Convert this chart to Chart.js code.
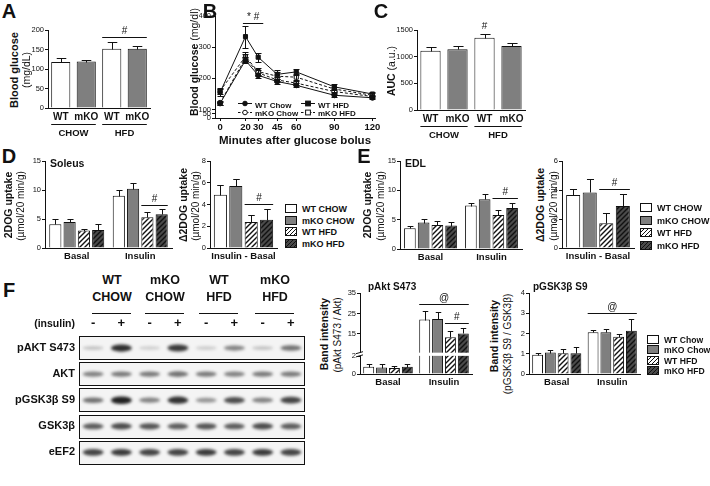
<!DOCTYPE html>
<html lang="en">
<head>
<meta charset="UTF-8" />
<title>Glucose figure</title>
<script src="https://cdn.jsdelivr.net/npm/chart.js@4.4.1/dist/chart.umd.min.js"></script>
<style>
  body { margin: 0; background: #fff; }
  #fig { position: relative; width: 710px; height: 486px; overflow: hidden; background: #fff;
         font-family: "Liberation Sans", Arial, sans-serif; color: #111; }
  #fig canvas { position: absolute; }
  .t { position: absolute; white-space: nowrap; line-height: 1; }
  .sw { display: inline-block; width: 12px; height: 9px; border: 1px solid #111; box-sizing: border-box;
        vertical-align: middle; margin-right: 5px; margin-top: -2px; }
  .hl { position: absolute; height: 0; border-top: 1px solid #111; }
</style>
</head>
<body>
<div id="fig"></div>
<script>
// ---- data ----
// A: fasting blood glucose (mg/dL)
const genotypeLabels = ['WT', 'mKO', 'WT', 'mKO'];
const fastGlucose = [118, 119, 152, 152];
const fastGlucoseSem = [10, 5, 16, 6];

// B: glucose tolerance test
const gttMinutes = [0, 20, 30, 45, 60, 90, 120];
const gttWtChow = [120, 258, 210, 190, 178, 146, 138];
const gttWtChowSem = [6, 10, 8, 8, 6, 5, 5];
const gttMkoChow = [122, 265, 218, 195, 185, 158, 142];
const gttMkoChowSem = [6, 12, 10, 8, 6, 6, 5];
const gttWtHfd = [155, 334, 268, 213, 221, 173, 150];
const gttWtHfdSem = [10, 35, 15, 14, 10, 8, 6];
const gttMkoHfd = [160, 270, 222, 207, 204, 166, 146];
const gttMkoHfdSem = [10, 14, 12, 14, 10, 8, 6];

// C: area under curve
const gttAuc = [1112, 1138, 1356, 1200];
const gttAucSem = [63, 62, 69, 62];

// D/E: 2DOG uptake
const uptakeCats = ['Basal', 'Insulin'];
const deltaCats = ['Insulin - Basal'];
const soleusUptake = [[4.1, 9.0], [4.5, 10.2], [3.0, 5.3], [3.1, 5.8]];
const soleusUptakeSem = [[0.9, 1.0], [0.5, 0.95], [0.3, 0.9], [1.05, 1.0]];
const soleusDelta = [4.9, 5.7, 2.4, 2.6];
const soleusDeltaSem = [0.85, 0.65, 0.6, 0.95];
const edlUptake = [[3.55, 7.4], [4.5, 8.5], [4.1, 5.8], [4.0, 7.0]];
const edlUptakeSem = [[0.35, 0.5], [0.6, 0.9], [0.7, 0.9], [0.6, 0.9]];
const edlDelta = [3.65, 3.83, 1.71, 2.9];
const edlDeltaSem = [0.42, 0.92, 0.7, 0.82];

// F: western blot quantification
const pAkt = [[0.81, 22.0], [0.72, 22.3], [0.68, 13.4], [0.82, 15.2]];
const pAktSem = [[0.3, 4.1], [0.38, 3.2], [0.25, 2.9], [0.35, 2.5]];
const pGsk = [[0.95, 2.06], [1.06, 2.06], [1.02, 1.84], [1.02, 2.14]];
const pGskSem = [[0.11, 0.11], [0.13, 0.17], [0.2, 0.12], [0.3, 0.56]];

// F: blot band strengths (0..1), one row per antibody, one value per lane
const blotRows = ['pAKT S473', 'AKT', 'pGSK3β S9', 'GSK3β', 'eEF2'];
const blotLanes = ['-', '+', '-', '+', '-', '+', '-', '+'];
const blotSignal = [
  [0.10, 0.92, 0.04, 0.85, 0.05, 0.45, 0.10, 0.55],
  [0.45, 0.50, 0.50, 0.55, 0.50, 0.45, 0.50, 0.50],
  [0.55, 1.00, 0.45, 0.90, 0.35, 0.75, 0.45, 0.80],
  [0.65, 0.75, 0.70, 0.65, 0.70, 0.65, 0.75, 0.65],
  [0.80, 0.85, 0.80, 0.80, 0.85, 0.80, 0.85, 0.80],
];

const upperNames = ['WT CHOW', 'mKO CHOW', 'WT HFD', 'mKO HFD'];
const chowNames = ['WT Chow', 'mKO Chow', 'WT HFD', 'mKO HFD'];

// ---- helpers ----
const FONT = '"Liberation Sans", Arial, sans-serif';
Chart.defaults.font.family = FONT;
Chart.defaults.color = '#111';
const fig = document.getElementById('fig');

function put(html, x, y, font, anchor) {
  const d = document.createElement('div');
  d.className = 't';
  d.innerHTML = html;
  d.style.font = font + ' ' + FONT;
  d.style.left = x + 'px';
  d.style.top = y + 'px';
  d.style.transform = anchor === 'left' ? 'translateY(-50%)'
    : anchor === 'right' ? 'translate(-100%,-50%)'
    : anchor === 'rot' ? 'translate(-50%,-50%) rotate(-90deg)'
    : 'translate(-50%,-50%)';
  fig.appendChild(d);
}

function hatch(bg) {
  const c = document.createElement('canvas');
  c.width = c.height = 5;
  const g = c.getContext('2d');
  g.fillStyle = bg;
  g.fillRect(0, 0, 5, 5);
  g.strokeStyle = '#111';
  g.lineWidth = 1.4;
  g.beginPath();
  g.moveTo(0, 5); g.lineTo(5, 0);
  g.moveTo(-1, 1); g.lineTo(1, -1);
  g.moveTo(4, 6); g.lineTo(6, 4);
  g.stroke();
  return g.createPattern(c, 'repeat');
}
const fills = ['#ffffff', '#7f7f7f', hatch('#ffffff'), hatch('#4a4a4a')];
const swatches = ['#fff', '#7f7f7f',
  'repeating-linear-gradient(135deg,#fff 0 1.6px,#111 1.6px 2.8px)',
  'repeating-linear-gradient(135deg,#4a4a4a 0 1.6px,#111 1.6px 2.8px)'];

// piecewise y scale for the broken axes (B and pAkt)
const PIECES = {};
class BrokenScale extends Chart.LinearScale {
  getPixelForValue(v) {
    const pc = PIECES[this.chart.canvas.id];
    let f = 0;
    for (let k = 1; k < pc.length; k++) {
      if (v <= pc[k][0] || k === pc.length - 1) {
        f = pc[k - 1][1] + (v - pc[k - 1][0]) / (pc[k][0] - pc[k - 1][0]) * (pc[k][1] - pc[k - 1][1]);
        break;
      }
    }
    return this.getPixelForDecimal(f);
  }
}
BrokenScale.id = 'broken';
BrokenScale.defaults = Chart.LinearScale.defaults;
Chart.register(BrokenScale);

// upper error bars (bars) / both-sided (lines)
Chart.register({
  id: 'errBars',
  afterDatasetsDraw(chart) {
    const ctx = chart.ctx, ys = chart.scales.y, isLine = chart.config.type === 'line';
    ctx.save();
    ctx.strokeStyle = '#111';
    ctx.lineWidth = 1;
    chart.data.datasets.forEach((ds, di) => {
      if (!ds.sem) return;
      chart.getDatasetMeta(di).data.forEach((el, i) => {
        const raw = ds.data[i];
        const m = typeof raw === 'object' ? raw.y : raw, s = ds.sem[i];
        if (m == null || !s) return;
        const x = Math.round(el.x) + 0.5;
        const hi = Math.round(ys.getPixelForValue(m + s)) + 0.5;
        const lo = Math.round(ys.getPixelForValue(isLine ? m - s : m)) + 0.5;
        const hw = isLine ? 3 : Math.max(2, el.width * 0.25);
        ctx.beginPath();
        ctx.moveTo(x, lo); ctx.lineTo(x, hi);
        ctx.moveTo(x - hw, hi); ctx.lineTo(x + hw, hi);
        if (isLine) { ctx.moveTo(x - hw, lo); ctx.lineTo(x + hw, lo); }
        ctx.stroke();
      });
    });
    ctx.restore();
  }
});

function barEdge(chart, ref, side) {
  const el = chart.getDatasetMeta(ref[0]).data[ref[1]];
  return el.x + side * el.width / 2;
}

// significance lines + symbols
function sigPlugin(marks) {
  return {
    id: 'sig',
    afterDatasetsDraw(chart) {
      const ctx = chart.ctx, ys = chart.scales.y, xs = chart.scales.x;
      ctx.save();
      ctx.strokeStyle = '#111';
      ctx.fillStyle = '#111';
      ctx.lineWidth = 1;
      ctx.font = '10px ' + FONT;
      ctx.textAlign = 'center';
      ctx.textBaseline = 'bottom';
      marks.forEach(m => {
        const x0 = m.a ? barEdge(chart, m.a, -1) : xs.getPixelForValue(m.x0);
        const x1 = m.a ? barEdge(chart, m.b, 1) : xs.getPixelForValue(m.x1);
        const y = Math.round(ys.getPixelForValue(m.y)) + 0.5;
        if (!m.noLine) {
          ctx.beginPath(); ctx.moveTo(x0, y); ctx.lineTo(x1, y); ctx.stroke();
        }
        ctx.fillText(m.text, (x0 + x1) / 2, y - 1.5);
      });
      ctx.restore();
    }
  };
}

// CHOW / HFD group labels under the genotype ticks
function groupPlugin(items) {
  return {
    id: 'groups',
    afterDraw(chart) {
      const ctx = chart.ctx, b = chart.chartArea.bottom;
      ctx.save();
      ctx.strokeStyle = '#111';
      ctx.fillStyle = '#111';
      ctx.font = 'bold 9.5px ' + FONT;
      ctx.textAlign = 'center';
      ctx.textBaseline = 'middle';
      items.forEach(g => {
        const x0 = barEdge(chart, [0, g.a], -1), x1 = barEdge(chart, [0, g.b], 1);
        ctx.beginPath(); ctx.moveTo(x0, b + 16.5); ctx.lineTo(x1, b + 16.5); ctx.stroke();
        ctx.fillText(g.text, (x0 + x1) / 2, b + 25);
      });
      ctx.restore();
    }
  };
}

// white gap across the broken pAkt axis
function gapPlugin(v0, v1) {
  return {
    id: 'gap',
    afterDatasetsDraw(chart) {
      const ctx = chart.ctx, ca = chart.chartArea, ys = chart.scales.y;
      const t = ys.getPixelForValue(v1), b = ys.getPixelForValue(v0);
      ctx.save();
      ctx.fillStyle = '#fff';
      ctx.fillRect(ca.left - 1, t, ca.right - ca.left + 2, b - t);
      ctx.strokeStyle = '#111';
      ctx.beginPath();
      ctx.moveTo(ca.left - 4, t + 1); ctx.lineTo(ca.left + 3, t - 1);
      ctx.moveTo(ca.left - 4, b + 1); ctx.lineTo(ca.left + 3, b - 1);
      ctx.stroke();
      ctx.restore();
    }
  };
}

let nCanvas = 0;
function mount(plot, yw, xTop, xBot) {
  const pad = { left: 2, top: 8, right: 8, bottom: 1 };
  const L = Math.round(plot[0] - yw - pad.left), T = Math.round(plot[1] - xTop - pad.top);
  const R = Math.round(plot[2] + pad.right), B = Math.round(plot[3] + xBot + pad.bottom);
  const c = document.createElement('canvas');
  c.id = 'cv' + (nCanvas++);
  c.width = R - L;
  c.height = B - T;
  c.style.left = L + 'px';
  c.style.top = T + 'px';
  fig.appendChild(c);
  return { c, pad };
}

function yAxis(yw, ticks, extra) {
  return Object.assign({
    grid: { display: true, drawOnChartArea: false, tickLength: 3, color: '#111' },
    border: { color: '#111', width: 1 },
    ticks: { font: { size: 7.5 }, padding: 1, color: '#111', callback: v => String(v) },
    afterBuildTicks: s => { s.ticks = ticks.map(v => ({ value: v })); },
    afterFit: s => { s.width = yw; }
  }, extra);
}

function barChart(plot, yw, xh, o) {
  const { c, pad } = mount(plot, yw, 0, xh);
  if (o.pieces) PIECES[c.id] = o.pieces;
  return new Chart(c, {
    type: 'bar',
    data: { labels: o.labels, datasets: o.datasets },
    options: {
      responsive: false, animation: false, events: [],
      layout: { padding: pad },
      datasets: { bar: { categoryPercentage: o.cp, barPercentage: o.bp, borderColor: '#111', borderWidth: 1 } },
      scales: {
        x: {
          grid: { display: false, drawTicks: false },
          border: { color: '#111', width: 1 },
          ticks: { font: { size: o.xFont || 9.5, weight: 'bold' }, padding: 3, color: '#111', maxRotation: 0, minRotation: 0, autoSkip: false },
          afterFit: s => { s.height = xh; }
        },
        y: yAxis(yw, o.ticks, { type: o.pieces ? 'broken' : 'linear', min: 0, max: o.max })
      },
      plugins: { legend: { display: false }, tooltip: { enabled: false } }
    },
    plugins: [sigPlugin(o.marks || []), groupPlugin(o.groups || [])].concat(o.extra || [])
  });
}

function fourSets(series, sems) {
  return series.map((d, k) => ({ label: upperNames[k], data: d, sem: sems[k], backgroundColor: fills[k] }));
}
function deltaSets(vals, sems) {
  return vals.map((v, k) => ({ label: upperNames[k], data: [v], sem: [sems[k]], backgroundColor: fills[k] }));
}

// ---- A ----
barChart([48, 30, 150, 108], 20, 36, {
  labels: genotypeLabels, max: 200, ticks: [0, 50, 100, 150, 200], cp: 1, bp: 0.75, xFont: 10,
  datasets: [{ data: fastGlucose, sem: fastGlucoseSem, backgroundColor: [fills[0], fills[1], fills[0], fills[1]] }],
  marks: [{ a: [0, 2], b: [0, 3], y: 183, text: '#' }],
  groups: [{ a: 0, b: 1, text: 'CHOW' }, { a: 2, b: 3, text: 'HFD' }]
});

// ---- B ----
(function () {
  const { c, pad } = mount([215, 16, 375, 118], 16, 0, 30);
  PIECES[c.id] = [[0, 0], [100, 0.082], [400, 1]];
  const pts = arr => gttMinutes.map((t, i) => ({ x: t, y: arr[i] }));
  const line = (label, arr, sem, dash, shape, filled) => ({
    label, data: pts(arr), sem, borderColor: '#111', borderWidth: 1, borderDash: dash ? [3, 2] : [],
    pointStyle: shape, pointRadius: shape === 'rect' ? 2.9 : 2.5, pointBorderWidth: 1,
    pointBorderColor: '#111', pointBackgroundColor: filled ? '#111' : '#fff', tension: 0
  });
  new Chart(c, {
    type: 'line',
    data: {
      datasets: [
        line('WT Chow', gttWtChow, gttWtChowSem, false, 'circle', true),
        line('mKO Chow', gttMkoChow, gttMkoChowSem, true, 'circle', false),
        line('WT HFD', gttWtHfd, gttWtHfdSem, false, 'rect', true),
        line('mKO HFD', gttMkoHfd, gttMkoHfdSem, true, 'rect', false)
      ]
    },
    options: {
      responsive: false, animation: false, events: [],
      layout: { padding: pad },
      scales: {
        x: {
          type: 'linear', min: -4, max: 122,
          grid: { display: true, drawOnChartArea: false, tickLength: 3, color: '#111' },
          border: { color: '#111' },
          ticks: { font: { size: 9.5, weight: 'bold' }, padding: 1, color: '#111', maxRotation: 0 },
          afterBuildTicks: s => { s.ticks = gttMinutes.map(v => ({ value: v })); },
          title: { display: true, text: 'Minutes after glucose bolus', font: { size: 11.5, weight: 'bold' }, padding: 0, color: '#111' },
          afterFit: s => { s.height = 30; }
        },
        y: yAxis(16, [0, 50, 100, 200, 300, 400], { type: 'broken', min: 0, max: 400 })
      },
      plugins: { legend: { display: false }, tooltip: { enabled: false } }
    },
    plugins: [sigPlugin([{ x0: 18, x1: 34, y: 377, text: '* #' }])]
  });
})();

// ---- C ----
barChart([417, 30, 525, 110], 24, 36, {
  labels: genotypeLabels, max: 1500, ticks: [0, 500, 1000, 1500], cp: 1, bp: 0.75, xFont: 10,
  datasets: [{ data: gttAuc, sem: gttAucSem, backgroundColor: [fills[0], fills[1], fills[0], fills[1]] }],
  marks: [{ a: [0, 2], b: [0, 2], y: 1470, text: '#', noLine: true }],
  groups: [{ a: 0, b: 1, text: 'CHOW' }, { a: 2, b: 3, text: 'HFD' }]
});

// ---- D ----
barChart([45, 161, 172, 248], 14, 16, {
  labels: uptakeCats, max: 15, ticks: [0, 5, 10, 15], cp: 0.9, bp: 0.85,
  datasets: fourSets(soleusUptake, soleusUptakeSem),
  marks: [{ a: [2, 1], b: [3, 1], y: 7.5, text: '#' }]
});
barChart([210, 161, 277, 248], 12, 16, {
  labels: deltaCats, max: 8, ticks: [0, 2, 4, 6, 8], cp: 0.92, bp: 0.85,
  datasets: deltaSets(soleusDelta, soleusDeltaSem),
  marks: [{ a: [2, 0], b: [3, 0], y: 4.05, text: '#' }]
});

// ---- E ----
barChart([400, 161, 522, 249], 14, 16, {
  labels: uptakeCats, max: 15, ticks: [0, 5, 10, 15], cp: 0.9, bp: 0.85,
  datasets: fourSets(edlUptake, edlUptakeSem),
  marks: [{ a: [2, 1], b: [3, 1], y: 8.7, text: '#' }]
});
barChart([562, 161, 634, 248], 12, 16, {
  labels: deltaCats, max: 6, ticks: [0, 2, 4, 6], cp: 0.92, bp: 0.85,
  datasets: deltaSets(edlDelta, edlDeltaSem),
  marks: [{ a: [2, 0], b: [3, 0], y: 4.06, text: '#' }]
});

// ---- F bar charts ----
barChart([360, 293, 472, 374], 14, 16, {
  labels: uptakeCats, max: 35, ticks: [0, 1, 2, 10, 15, 20, 25, 30, 35], cp: 0.92, bp: 0.85,
  pieces: [[0, 0], [2, 0.221], [6, 0.268], [35, 1]],
  datasets: fourSets(pAkt, pAktSem),
  marks: [{ a: [0, 1], b: [3, 1], y: 29.4, text: '@' }, { a: [2, 1], b: [3, 1], y: 20.1, text: '#' }],
  extra: [gapPlugin(2.25, 5.6)]
});
barChart([529, 293, 640, 374], 12, 16, {
  labels: uptakeCats, max: 4, ticks: [0, 1, 2, 3, 4], cp: 0.92, bp: 0.85,
  datasets: fourSets(pGsk, pGskSem),
  marks: [{ a: [0, 1], b: [3, 1], y: 3.0, text: '@' }]
});

// ---- F blot ----
(function () {
  const { c, pad } = mount([79, 335, 305, 475], 77, 16, 0);
  const blot = {
    id: 'blot',
    beforeDatasetsDraw(chart) {
      const ctx = chart.ctx, xs = chart.scales.x, ys = chart.scales.y, ca = chart.chartArea;
      const lw = xs.getPixelForValue(1) - xs.getPixelForValue(0);
      const rh = ys.getPixelForValue(1) - ys.getPixelForValue(0);
      blotSignal.forEach((row, r) => {
        const yc = ys.getPixelForValue(r);
        const top = Math.round(yc - rh * 0.45) + 0.5, h = Math.round(rh * 0.9);
        ctx.save();
        ctx.fillStyle = '#f4f4f4';
        ctx.fillRect(ca.left, top, ca.right - ca.left, h);
        ctx.beginPath(); ctx.rect(ca.left, top, ca.right - ca.left, h); ctx.clip();
        ctx.filter = 'blur(1.4px)';
        row.forEach((s, i) => {
          const x = xs.getPixelForValue(i);
          ctx.fillStyle = 'rgba(20,20,20,' + (0.15 + 0.8 * s) + ')';
          ctx.beginPath();
          ctx.ellipse(x, yc, lw * 0.37, 1.6 + 2.2 * s, 0, 0, Math.PI * 2);
          ctx.fill();
        });
        ctx.restore();
        ctx.strokeStyle = '#111';
        ctx.lineWidth = 1;
        ctx.strokeRect(ca.left + 0.5, top, ca.right - ca.left - 1, h);
      });
    }
  };
  new Chart(c, {
    type: 'scatter',
    data: { datasets: [] },
    options: {
      responsive: false, animation: false, events: [],
      layout: { padding: pad },
      scales: {
        x: {
          type: 'category', labels: blotLanes, position: 'top', offset: true,
          grid: { display: false, drawTicks: false }, border: { display: false },
          ticks: { font: { size: 13, weight: 'bold' }, padding: 4, color: '#111', maxRotation: 0, autoSkip: false },
          afterFit: s => { s.height = 16; }
        },
        y: {
          type: 'category', labels: blotRows, offset: true,
          grid: { display: false, drawTicks: false }, border: { display: false },
          ticks: { font: { size: 11, weight: 'bold' }, padding: 4, color: '#111', autoSkip: false },
          afterFit: s => { s.width = 77; }
        }
      },
      plugins: { legend: { display: false }, tooltip: { enabled: false } }
    },
    plugins: [blot]
  });
})();

// ---- text: letters, axis titles, legends ----
put('A', 9, 11, 'bold 20px'); put('B', 210, 11, 'bold 20px'); put('C', 381, 11, 'bold 20px');
put('D', 9, 156, 'bold 20px'); put('E', 364, 156, 'bold 20px'); put('F', 9, 290, 'bold 20px');

put('Blood glucose', 14, 70, 'bold 11px', 'rot');
put('(mg/dL)', 26, 70, '10.5px', 'rot');
put('<b>Blood glucose</b> (mg/dl)', 194, 62, '10.5px', 'rot');
put('<b>AUC</b> (a.u.)', 391, 71, '10.5px', 'rot');

put('2DOG uptake', 8, 205, 'bold 10.5px', 'rot');
put('(µmol/20 min/g)', 20, 206, '10px', 'rot');
put('Δ2DOG uptake', 183, 205, 'bold 10.5px', 'rot');
put('(µmol/20 min/g)', 195, 206, '10px', 'rot');
put('Soleus', 50, 163, 'bold 10.5px', 'left');

put('2DOG uptake', 367, 205, 'bold 10.5px', 'rot');
put('(µmol/20 min/g)', 380, 206, '10px', 'rot');
put('Δ2DOG uptake', 540, 205, 'bold 10.5px', 'rot');
put('(µmol/20 min/g)', 553, 206, '10px', 'rot');
put('EDL', 405, 163, 'bold 10.5px', 'left');

put('pAkt S473', 368, 286, 'bold 10px', 'left');
put('pGSK3β S9', 533, 286, 'bold 10px', 'left');
put('Band intensity', 324, 334, 'bold 10.5px', 'rot');
put('(pAkt S473 / Akt)', 337, 335, '10px', 'rot');
put('Band intensity', 494, 336, 'bold 10.5px', 'rot');
put('(pGSK3β S9 / GSK3β)', 507, 344, '10px', 'rot');

function legend(x, ys, names, font) {
  names.forEach((n, k) => put('<span class="sw" style="background:' + swatches[k] + '"></span>' + n, x, ys[k], font, 'left'));
}
legend(285, [209, 220.5, 232, 243.5], upperNames, 'bold 9px');
legend(640, [208, 220.5, 233, 245.5], upperNames, 'bold 9px');
legend(647, [339.5, 350, 360.5, 371], chowNames, 'bold 8.6px');

function sym(dash, shape, filled) {
  const f = filled ? '#111' : '#fff';
  const m = shape === 'c' ? '<circle cx="7" cy="4" r="2.3" fill="' + f + '" stroke="#111"/>'
    : '<rect x="4.6" y="1.6" width="4.8" height="4.8" fill="' + f + '" stroke="#111"/>';
  return '<svg width="14" height="8" style="vertical-align:middle;margin-right:3px;margin-top:-2px">' +
    '<line x1="0" y1="4" x2="14" y2="4" stroke="#111"' + (dash ? ' stroke-dasharray="2.5,1.5"' : '') + '/>' + m + '</svg>';
}
put(sym(false, 'c', true) + 'WT Chow', 238, 104.5, 'bold 8px', 'left');
put(sym(true, 'c', false) + 'mKO Chow', 238, 112.7, 'bold 8px', 'left');
put(sym(false, 'r', true) + 'WT HFD', 301, 104.5, 'bold 8px', 'left');
put(sym(true, 'r', false) + 'mKO HFD', 301, 112.7, 'bold 8px', 'left');

// blot headers
[['WT', 'CHOW', 112], ['mKO', 'CHOW', 165], ['WT', 'HFD', 219], ['mKO', 'HFD', 275]].forEach(h => {
  put(h[0], h[2], 280, 'bold 12.5px');
  put(h[1], h[2], 297, 'bold 12.5px');
  const l = document.createElement('div');
  l.className = 'hl';
  l.style.left = (h[2] - 20) + 'px';
  l.style.top = '313px';
  l.style.width = '39px';
  fig.appendChild(l);
});
put('(insulin)', 75, 323, 'bold 10.5px', 'right');
</script>
</body>
</html>
